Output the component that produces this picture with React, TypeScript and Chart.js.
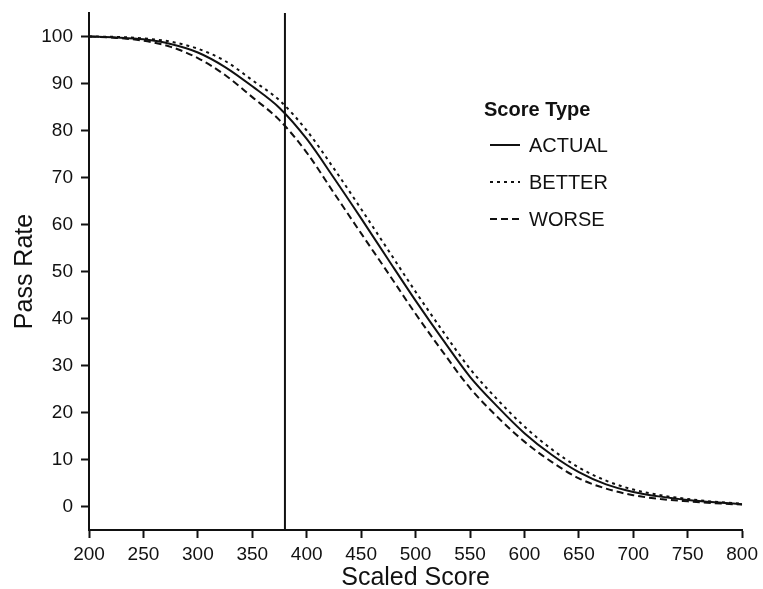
import React, { useEffect, useRef } from "react";
import { Chart, registerables } from "chart.js";

Chart.register(...registerables);

// ---- Data ----
const scores = [200, 225, 250, 275, 300, 325, 350, 375, 400, 425, 450, 475, 500, 525, 550, 575, 600, 625, 650, 675, 700, 725, 750, 775, 800];
const actual = [100, 99.8, 99.4, 98.4, 96.6, 93.5, 89.4, 84.8, 78.2, 69.9, 61.3, 52.5, 43.8, 35.5, 27.6, 21.3, 15.6, 11.0, 7.3, 4.7, 3.1, 2.1, 1.4, 0.9, 0.5];
const better = [100, 99.9, 99.6, 98.9, 97.4, 94.8, 90.7, 86.4, 80.0, 71.9, 63.3, 54.5, 45.7, 37.3, 29.3, 22.8, 17.0, 12.2, 8.3, 5.5, 3.6, 2.4, 1.6, 1.0, 0.6];
const worse = [100, 99.7, 99.1, 97.8, 95.4, 91.8, 87.1, 82.2, 75.3, 66.7, 58.1, 49.6, 41.0, 32.9, 25.2, 19.1, 13.8, 9.5, 6.0, 3.8, 2.4, 1.6, 1.1, 0.7, 0.4];
const cutScore = 380;
const cutRange = [-5, 105];
const xTicks = [200, 250, 300, 350, 400, 450, 500, 550, 600, 650, 700, 750, 800];
const yTicks = [0, 10, 20, 30, 40, 50, 60, 70, 80, 90, 100];
const seriesLabels = ["ACTUAL", "BETTER", "WORSE"];
const legendTitle = "Score Type";
const xTitle = "Scaled Score";
const yTitle = "Pass Rate";

const FONT = "'Liberation Sans', Arial, Helvetica, sans-serif";
const INK = "#111111";

const legendPlugin = {
  id: "scoreLegend",
  afterDraw(chart: any) {
    const ctx = chart.ctx as CanvasRenderingContext2D;
    ctx.save();
    ctx.fillStyle = INK;
    ctx.textBaseline = "middle";
    ctx.textAlign = "left";
    ctx.font = `bold 20px ${FONT}`;
    ctx.fillText(legendTitle, 484, 110);
    const ys = [145, 182, 219];
    ctx.font = `20px ${FONT}`;
    seriesLabels.forEach((lab, i) => {
      const ds = chart.data.datasets[i];
      ctx.strokeStyle = ds.borderColor;
      ctx.lineWidth = 2;
      ctx.setLineDash(ds.borderDash || []);
      ctx.beginPath();
      ctx.moveTo(490, ys[i]);
      ctx.lineTo(520, ys[i]);
      ctx.stroke();
      ctx.setLineDash([]);
      ctx.fillText(lab, 529, ys[i] + 1);
    });
    ctx.restore();
  },
};

export default function App() {
  const ref = useRef<HTMLCanvasElement | null>(null);

  useEffect(() => {
    if (!ref.current) return;
    const mk = (arr: number[]) => scores.map((x, i) => ({ x, y: arr[i] }));
    const chart = new Chart(ref.current, {
      type: "line",
      data: {
        datasets: [
          { label: seriesLabels[0], data: mk(actual), borderColor: INK, borderWidth: 2, borderDash: [], pointRadius: 0, cubicInterpolationMode: "monotone", fill: false },
          { label: seriesLabels[1], data: mk(better), borderColor: INK, borderWidth: 2, borderDash: [3, 4], pointRadius: 0, cubicInterpolationMode: "monotone", fill: false },
          { label: seriesLabels[2], data: mk(worse), borderColor: INK, borderWidth: 2, borderDash: [7, 4], pointRadius: 0, cubicInterpolationMode: "monotone", fill: false },
          { label: "cut", data: cutRange.map((y) => ({ x: cutScore, y })), borderColor: INK, borderWidth: 2, pointRadius: 0, fill: false },
        ],
      } as any,
      options: {
        animation: false,
        responsive: false,
        layout: { padding: { top: 13, right: 18, left: 0, bottom: 0 } },
        plugins: { legend: { display: false }, tooltip: { enabled: false } },
        scales: {
          x: {
            type: "linear",
            min: 200,
            max: 800,
            afterBuildTicks: (s: any) => {
              s.ticks = xTicks.map((v) => ({ value: v }));
            },
            afterFit: (s: any) => {
              s.height = 59;
            },
            ticks: { color: INK, font: { family: FONT, size: 19 }, padding: 5, autoSkip: false, maxRotation: 0 },
            grid: { drawOnChartArea: false, drawTicks: true, tickLength: 8, tickWidth: 2, tickColor: INK },
            border: { display: true, color: INK, width: 2 },
            title: { display: true, text: xTitle, color: INK, font: { family: FONT, size: 25 }, padding: { top: 0, bottom: -4 } },
          },
          y: {
            type: "linear",
            min: -5,
            max: 105,
            afterBuildTicks: (s: any) => {
              s.ticks = yTicks.map((v) => ({ value: v }));
            },
            afterFit: (s: any) => {
              s.width = 89;
              s.paddingTop = 0;
              s.paddingBottom = 0;
            },
            ticks: { color: INK, font: { family: FONT, size: 19 }, padding: 8, autoSkip: false },
            grid: { drawOnChartArea: false, drawTicks: true, tickLength: 8, tickWidth: 2, tickColor: INK },
            border: { display: true, color: INK, width: 2 },
            title: { display: true, text: yTitle, color: INK, font: { family: FONT, size: 25 }, padding: { top: 10, bottom: 0 } },
          },
        },
      } as any,
      plugins: [legendPlugin],
    });
    return () => chart.destroy();
  }, []);

  return (
    <div style={{ position: "absolute", left: 0, top: 0, width: 763, height: 589, background: "#fff" }}>
      <canvas ref={ref} width={763} height={589} style={{ display: "block", width: 763, height: 589 }} />
    </div>
  );
}
